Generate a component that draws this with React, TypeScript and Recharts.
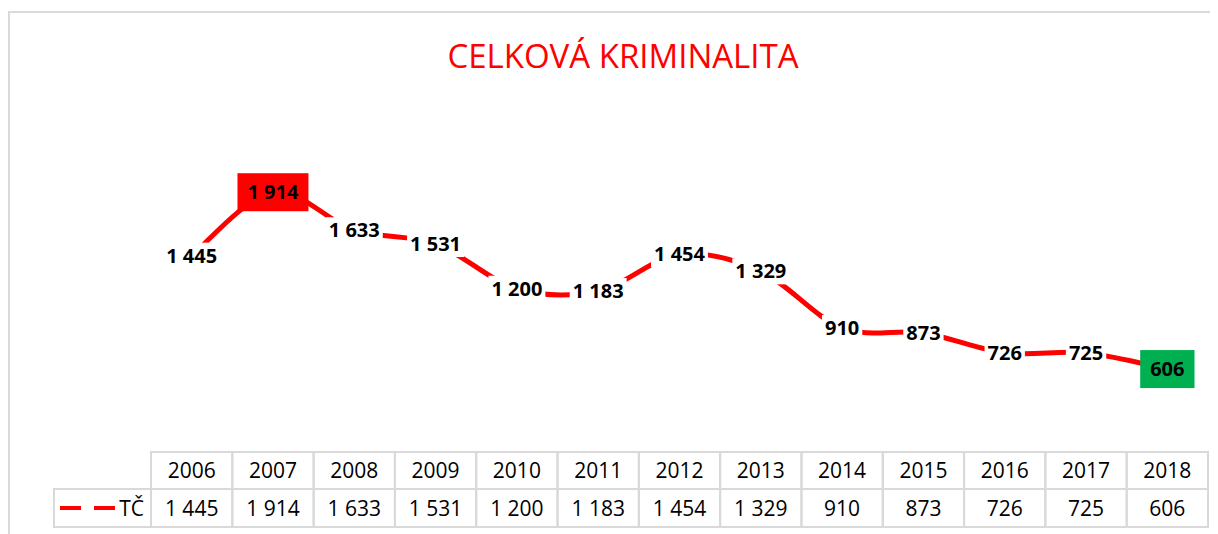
import React from 'react';
import { LineChart, Line, XAxis, YAxis, LabelList } from 'recharts';

const years = ['2006', '2007', '2008', '2009', '2010', '2011', '2012', '2013', '2014', '2015', '2016', '2017', '2018'];
const tcValues = [1445, 1914, 1633, 1531, 1200, 1183, 1454, 1329, 910, 873, 726, 725, 606];
const seriesName = 'TČ';
const chartTitle = 'CELKOVÁ KRIMINALITA';
const yDomain = [0, 2500];

const data = years.map((year, i) => ({ year, tc: tcValues[i] }));

const CHART_W = 1210;
const CHART_H = 526;
const MARGIN = { top: 105, right: 10, bottom: 7, left: 143 };
const BAND = (CHART_W - MARGIN.left - MARGIN.right) / years.length;
const GRID = '#d9d9d9';
const FONT = '"Open Sans", sans-serif';

const maxV = Math.max(...tcValues);
const minV = Math.min(...tcValues);

const fmt = (v: number) =>
  v >= 1000 ? `${Math.floor(v / 1000)} ${String(v % 1000).padStart(3, '0')}` : String(v);

// rough Excel "smoothed line": catmull-rom through the points
const excelSmooth = (context: any) => {
  let pts: [number, number][] = [];
  return {
    areaStart() {},
    areaEnd() {},
    lineStart() {
      pts = [];
    },
    point(x: number, y: number) {
      pts.push([+x, +y]);
    },
    lineEnd() {
      if (!pts.length) return;
      context.moveTo(pts[0][0], pts[0][1]);
      for (let i = 0; i < pts.length - 1; i++) {
        const p0 = pts[Math.max(i - 1, 0)];
        const p1 = pts[i];
        const p2 = pts[i + 1];
        const p3 = pts[Math.min(i + 2, pts.length - 1)];
        context.bezierCurveTo(
          p1[0] + (p2[0] - p0[0]) / 6,
          p1[1] + (p2[1] - p0[1]) / 6,
          p2[0] - (p3[0] - p1[0]) / 6,
          p2[1] - (p3[1] - p1[1]) / 6,
          p2[0],
          p2[1]
        );
      }
    },
  };
};

const textWidth = (s: string, size: number) =>
  [...s].reduce((w, c) => w + (c === ' ' ? 0.26 : 0.572) * size, 0);

const PointLabel = (props: any) => {
  const { x, y, value } = props;
  const text = fmt(Number(value));
  const tw = textWidth(text, 20);
  const hl = value === maxV ? '#ff0000' : value === minV ? '#00b050' : null;
  const w = hl ? tw + 20 : tw + 6;
  const h = hl ? 38 : 26;
  return (
    <g>
      <rect x={x - w / 2} y={y - h / 2} width={w} height={h} fill={hl ?? '#ffffff'} />
      <text x={x} y={y + 7} textAnchor="middle" fontFamily={FONT} fontWeight={700} fontSize={20} fill="#000">
        {text}
      </text>
    </g>
  );
};

// x axis ticks draw the data table under the plot
const TableTick = (props: any) => {
  const { x, y, payload } = props;
  const i = props.index ?? payload.index;
  const left = x - BAND / 2;
  return (
    <g>
      <rect x={left} y={y + 1} width={BAND} height={37} fill="none" stroke={GRID} strokeWidth={2} />
      <rect x={left} y={y + 38} width={BAND} height={38} fill="none" stroke={GRID} strokeWidth={2} />
      <text x={x} y={y + 27} textAnchor="middle" fontFamily={FONT} fontSize={21} fill="#000">
        {payload.value}
      </text>
      <text x={x} y={y + 64.5} textAnchor="middle" fontFamily={FONT} fontSize={21} fill="#000">
        {fmt(tcValues[i])}
      </text>
      {i === 0 && (
        <g>
          <rect x={left - 97} y={y + 38} width={97} height={38} fill="none" stroke={GRID} strokeWidth={2} />
          <line x1={left - 91} x2={left - 36} y1={y + 57} y2={y + 57} stroke="#ff0000" strokeWidth={4} strokeDasharray="21 13" />
          <text x={left - 7} y={y + 64.5} textAnchor="end" fontFamily={FONT} fontSize={21} fill="#000">
            {seriesName}
          </text>
        </g>
      )}
    </g>
  );
};

export default function App() {
  return (
    <div style={{ position: 'relative', width: CHART_W, height: CHART_H, background: '#fff' }}>
      <div
        style={{
          position: 'absolute',
          left: 0,
          top: 3,
          width: CHART_W,
          height: CHART_H - 3,
          borderLeft: `2px solid ${GRID}`,
          borderTop: `2px solid ${GRID}`,
          boxSizing: 'border-box',
        }}
      />
      <svg width={CHART_W} height={100} style={{ position: 'absolute', left: 0, top: 0 }}>
        <text x={615} y={60} textAnchor="middle" fontFamily={FONT} fontSize={33} fill="#ff0000">
          {chartTitle}
        </text>
      </svg>
      <div style={{ position: 'absolute', left: 0, top: 0 }}>
        <LineChart width={CHART_W} height={CHART_H} data={data} margin={MARGIN}>
          <XAxis
            dataKey="year"
            scale="band"
            height={76}
            axisLine={false}
            tickLine={false}
            tickSize={0}
            tickMargin={0}
            interval={0}
            tick={<TableTick />}
          />
          <YAxis hide type="number" domain={yDomain} />
          <Line
            dataKey="tc"
            name={seriesName}
            type={excelSmooth as any}
            stroke="#ff0000"
            strokeWidth={5}
            dot={false}
            activeDot={false}
            isAnimationActive={false}
          >
            <LabelList dataKey="tc" content={<PointLabel />} />
          </Line>
        </LineChart>
      </div>
    </div>
  );
}
